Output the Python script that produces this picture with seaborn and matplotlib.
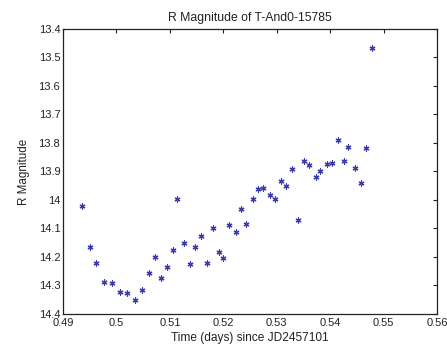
import matplotlib
matplotlib.use("Agg")
import matplotlib.pyplot as plt
import seaborn as sns
import pandas as pd

time_days = [0.4935, 0.4950, 0.4962, 0.4976, 0.4991, 0.5006, 0.5020, 0.5034, 0.5048,
             0.5061, 0.5073, 0.5084, 0.5094, 0.5105, 0.5114, 0.5126, 0.5137, 0.5147,
             0.5158, 0.5170, 0.5180, 0.5191, 0.5200, 0.5211, 0.5223, 0.5233, 0.5243,
             0.5255, 0.5265, 0.5275, 0.5287, 0.5296, 0.5308, 0.5317, 0.5329, 0.5340,
             0.5350, 0.5361, 0.5373, 0.5381, 0.5393, 0.5403, 0.5414, 0.5425, 0.5434,
             0.5446, 0.5457, 0.5467, 0.5479]
r_mag = [14.020, 14.164, 14.220, 14.287, 14.290, 14.324, 14.327, 14.351, 14.316,
         14.257, 14.200, 14.275, 14.234, 14.175, 13.995, 14.152, 14.226, 14.164,
         14.126, 14.221, 14.098, 14.184, 14.205, 14.088, 14.111, 14.033, 14.083,
         13.997, 13.963, 13.958, 13.984, 13.997, 13.935, 13.952, 13.891, 14.069,
         13.863, 13.877, 13.919, 13.899, 13.874, 13.871, 13.791, 13.862, 13.814,
         13.887, 13.941, 13.819, 13.466]

x_ticks = [0.49, 0.50, 0.51, 0.52, 0.53, 0.54, 0.55, 0.56]
x_tick_labels = ["0.49", "0.5", "0.51", "0.52", "0.53", "0.54", "0.55", "0.56"]
y_ticks = [13.4, 13.5, 13.6, 13.7, 13.8, 13.9, 14.0, 14.1, 14.2, 14.3, 14.4]
y_tick_labels = ["13.4", "13.5", "13.6", "13.7", "13.8", "13.9", "14", "14.1", "14.2", "14.3", "14.4"]

df = pd.DataFrame({"t": time_days, "r": r_mag})

sns.set_style("white")
plt.rcParams["font.family"] = ["Liberation Sans", "DejaVu Sans"]

fig = plt.figure(figsize=(4.47, 3.49), dpi=100)
ax = fig.add_axes([0.141, 0.1003, 0.837, 0.8167])

sns.scatterplot(data=df, x="t", y="r", ax=ax, marker=(6, 2, 0), s=13,
                color="#3a3aa8", linewidth=0.9, edgecolor="#3a3aa8", legend=False)

ax.set_xlim(0.49, 0.56)
ax.set_ylim(14.4, 13.4)
ax.set_xticks(x_ticks)
ax.set_xticklabels(x_tick_labels)
ax.set_yticks(y_ticks)
ax.set_yticklabels(y_tick_labels)
ax.tick_params(direction="in", length=3, width=0.8, top=True, right=True,
               labelsize=8, pad=2, colors="#222222")
ax.tick_params(axis="x", pad=3)
for sp in ax.spines.values():
    sp.set_visible(True)
    sp.set_color("#222222")
    sp.set_linewidth(0.9)

ax.set_title("R Magnitude of T-And0-15785", fontsize=8.8, pad=6, color="#222222")
ax.set_xlabel("Time (days) since JD2457101", fontsize=8.6, labelpad=3, color="#222222")
ax.set_ylabel("R Magnitude", fontsize=8.4, labelpad=6, color="#222222")

fig.savefig("out.png", dpi=100)
